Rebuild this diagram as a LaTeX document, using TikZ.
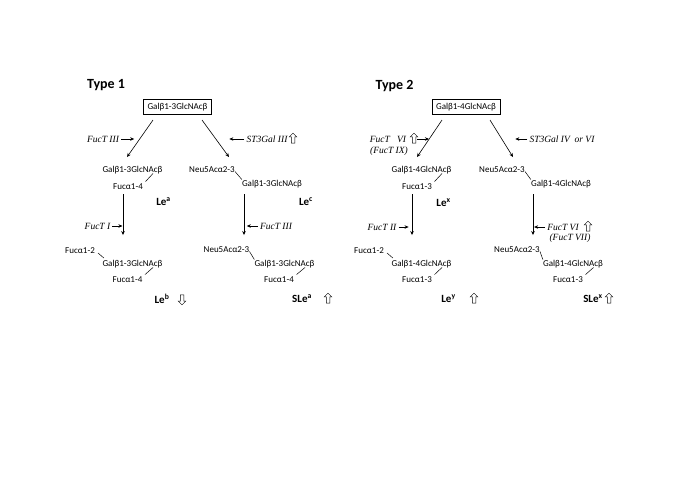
\documentclass[tikz,border=0pt]{standalone}
\usepackage{fontspec}
\setmainfont{Liberation Serif}
\newfontfamily\sugarfont{Carlito}
\usetikzlibrary{arrows.meta,positioning,shapes.arrows}

\begin{document}
\begin{tikzpicture}[x=1pt, y=-1pt,
  sugar/.style={font=\sugarfont\fontsize{9}{10}\selectfont, inner sep=0pt, text height=6.5pt, text depth=2pt},
  enzyme/.style={font=\itshape\fontsize{9.5}{11}\selectfont, inner sep=0pt},
  lewis/.style={font=\sugarfont\bfseries\fontsize{11}{13}\selectfont, inner sep=0pt},
  typelbl/.style={font=\sugarfont\bfseries\fontsize{14}{16}\selectfont, inner sep=0pt},
  hollowup/.style={single arrow, draw, line width=0.5pt, inner sep=1.5pt, single arrow head extend=2pt,
    minimum height=10pt, minimum width=7pt, shape border rotate=90},
  hollowdown/.style={hollowup, shape border rotate=270},
  arr/.style={line width=0.6pt, -{Stealth[length=4pt, width=3.5pt]}},
  link/.style={line width=0.5pt}]
\useasboundingbox (0,0) rectangle (685,484);

% Type 1
\node[typelbl] (type1) at (106,85) {Type 1};
\node[sugar, draw, line width=0.6pt, inner xsep=4pt, inner ysep=3.5pt] (t1top) at (177.5,107) {Galβ1-3GlcNAcβ};
\node[enzyme] (fTiii) at (103,139) {FucT III};
\node[enzyme] (st3a) at (267,139) {ST3Gal III};
\node[hollowup] (up1) at (293,139) {};
\node[sugar] (lea1) at (132.5,170) {Galβ1-3GlcNAcβ};
\node[sugar] (fuca) at (128,187) {Fucα1-4};
\node[lewis] (lea) at (163.5,202) {Le\textsuperscript{a}};
\node[sugar] (neua) at (212,170) {Neu5Acα2-3};
\node[sugar] (leca) at (272,184) {Galβ1-3GlcNAcβ};
\node[lewis] (lec) at (306,202) {Le\textsuperscript{c}};
\node[enzyme] (fTi) at (97.5,226) {FucT I};
\node[enzyme] (fTiiib) at (276,226) {FucT III};
\node[sugar] (fucb) at (80,251) {Fucα1-2};
\node[sugar] (leb1) at (132.5,264) {Galβ1-3GlcNAcβ};
\node[sugar] (fucc) at (127.5,280) {Fucα1-4};
\node[lewis] (leb) at (162,299) {Le\textsuperscript{b}};
\node[hollowdown] (down1) at (182,299) {};
\node[sugar] (neub) at (226.5,250) {Neu5Acα2-3};
\node[sugar] (slea1) at (284.5,264) {Galβ1-3GlcNAcβ};
\node[sugar] (fucd) at (279,280) {Fucα1-4};
\node[lewis] (slea) at (302,299) {SLe\textsuperscript{a}};
\node[hollowup] (up2) at (328,299) {};

\draw[arr] ([shift={(-24.5pt,-5pt)}]t1top.south) -- ([shift={(-5.5pt,8.5pt)}]lea1.north);
\draw[arr] ([shift={(24.5pt,-5pt)}]t1top.south) -- ([shift={(17pt,8.5pt)}]neua.north);
\draw[arr] ([shift={(-5pt,-3pt)}]fuca.south) -- ([shift={(-9.5pt,24.5pt)}]leb1.north);
\draw[arr] ([shift={(-28pt,-6pt)}]leca.south) -- ([shift={(-40.5pt,24.5pt)}]slea1.north);
\draw[arr] ([xshift=2pt]fTiii.east) -- ++(13pt,0);
\draw[arr] ([xshift=-2pt]st3a.west) -- ++(-15pt,0);
\draw[arr] ([xshift=2pt]fTi.east) -- ++(10pt,0);
\draw[arr] ([xshift=-2pt]fTiiib.west) -- ++(-11pt,0);
\draw[link] ([shift={(20.5pt,-3.5pt)}]lea1.center) -- ([shift={(2.5pt,1pt)}]fuca.north east);
\draw[link] ([yshift=-1.5pt]neua.east) -- (leca.north west);
\draw[link] ([shift={(3pt,-2pt)}]fucb.east) -- ([shift={(1.5pt,1.5pt)}]leb1.north west);
\draw[link] ([shift={(20.5pt,-3.5pt)}]leb1.center) -- ([shift={(2.5pt,1pt)}]fucc.north east);
\draw[link] ([yshift=-1.5pt]neub.east) -- (slea1.north west);
\draw[link] ([shift={(20.5pt,-3.5pt)}]slea1.center) -- ([shift={(2.5pt,1pt)}]fucd.north east);

% Type 2
\node[typelbl] (type2) at (394.5,86) {Type 2};
\node[sugar, draw, line width=0.6pt, inner xsep=4pt, inner ysep=3.5pt] (t2top) at (466,107) {Galβ1-4GlcNAcβ};
\node[enzyme] (fTvi) at (388,139) {FucT\ \ \ VI};
\node[hollowup] (up3) at (414,139) {};
\node[enzyme] (fTix) at (389,151) {(FucT IX)};
\node[enzyme] (st3b) at (562,139) {ST3Gal IV\ \ or VI};
\node[sugar] (lex1) at (421.5,170) {Galβ1-4GlcNAcβ};
\node[sugar] (fuce) at (417,187) {Fucα1-3};
\node[lewis] (lex) at (443.5,203) {Le\textsuperscript{x}};
\node[sugar] (neuc) at (502,170) {Neu5Acα2-3};
\node[sugar] (lsx1) at (561,184) {Galβ1-4GlcNAcβ};
\node[enzyme] (fTii) at (382,227) {FucT II};
\node[enzyme] (fTvib) at (563,227) {FucT VI};
\node[hollowup] (up4) at (588,227) {};
\node[enzyme] (fTvii) at (570,238) {(FucT VII)};
\node[sugar] (fucf) at (369,251) {Fucα1-2};
\node[sugar] (ley1) at (421.5,264) {Galβ1-4GlcNAcβ};
\node[sugar] (fucg) at (417,280) {Fucα1-3};
\node[lewis] (ley) at (448.5,299) {Le\textsuperscript{y}};
\node[hollowup] (up5) at (474,299) {};
\node[sugar] (neud) at (517,250) {Neu5Acα2-3};
\node[sugar] (slx1) at (573,264) {Galβ1-4GlcNAcβ};
\node[sugar] (fuch) at (568,280) {Fucα1-3};
\node[lewis] (slex) at (593,299) {SLe\textsuperscript{x}};
\node[hollowup] (up6) at (609,299) {};

\draw[arr] ([shift={(-24pt,-5pt)}]t2top.south) -- ([shift={(-4.5pt,8.5pt)}]lex1.north);
\draw[arr] ([shift={(24pt,-5pt)}]t2top.south) -- ([shift={(11pt,8.5pt)}]neuc.north);
\draw[arr] ([shift={(-5pt,-3pt)}]fuce.south) -- ([shift={(-9.5pt,24.5pt)}]ley1.north);
\draw[arr] ([shift={(-28pt,-6pt)}]lsx1.south) -- ([shift={(-40pt,24.5pt)}]slx1.north);
\draw[arr] ([xshift=3pt]up3.center) -- ++(12pt,0);
\draw[arr] ([xshift=-2pt]st3b.west) -- ++(-12pt,0);
\draw[arr] ([xshift=2pt]fTii.east) -- ++(10pt,0);
\draw[arr] ([xshift=-2pt]fTvib.west) -- ++(-11pt,0);
\draw[link] ([shift={(20.5pt,-3.5pt)}]lex1.center) -- ([shift={(2.5pt,1pt)}]fuce.north east);
\draw[link] ([yshift=-1.5pt]neuc.east) -- (lsx1.north west);
\draw[link] ([shift={(3pt,-2pt)}]fucf.east) -- ([shift={(1.5pt,1.5pt)}]ley1.north west);
\draw[link] ([shift={(20.5pt,-3.5pt)}]ley1.center) -- ([shift={(2.5pt,1pt)}]fucg.north east);
\draw[link] ([yshift=-1.5pt]neud.east) -- (slx1.north west);
\draw[link] ([shift={(20.5pt,-3.5pt)}]slx1.center) -- ([shift={(2.5pt,1pt)}]fuch.north east);
\end{tikzpicture}
\end{document}
